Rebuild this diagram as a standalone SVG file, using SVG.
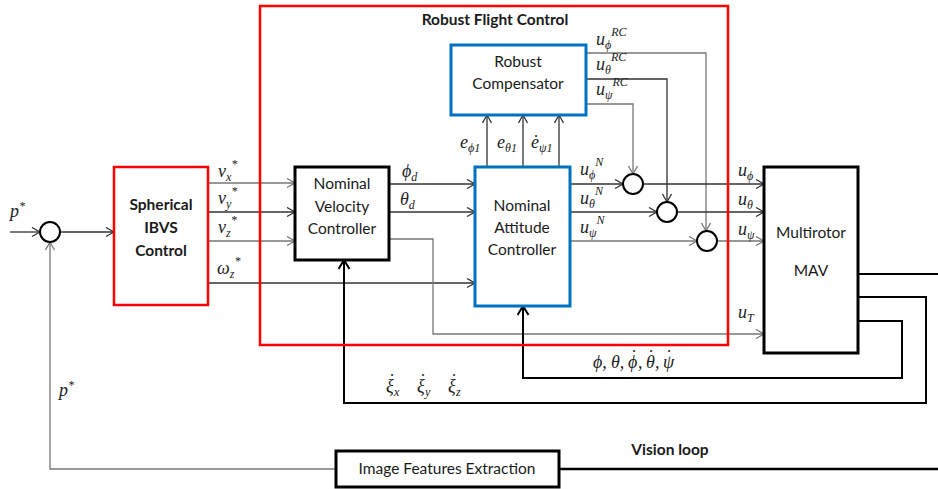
<svg xmlns="http://www.w3.org/2000/svg" width="938" height="489" viewBox="0 0 938 489">
<style>
.lbl{font-family:Lato,"Open Sans","Liberation Sans",sans-serif;font-size:15.5px;fill:#1a1a1a;text-anchor:middle}
.bold{font-weight:bold}
.m{font-family:"Liberation Serif","DejaVu Serif",serif;font-style:italic;font-size:18px;fill:#222}
.up{font-style:normal}
.s{font-size:12px}
.c{fill:none;stroke:#333;stroke-width:1.3}
.g{fill:none;stroke:#777;stroke-width:1.3}
.k{fill:none;stroke:#000;stroke-width:2}
.sum{fill:#fff;stroke:#000;stroke-width:2}
</style>
<defs>
<marker id="a" markerUnits="userSpaceOnUse" markerWidth="12" markerHeight="12" refX="9" refY="5" orient="auto"><path d="M1,0.5 L9,5 L1,9.5" fill="none" stroke="#333" stroke-width="1.3"/></marker>
<marker id="ag" markerUnits="userSpaceOnUse" markerWidth="12" markerHeight="12" refX="9" refY="5" orient="auto"><path d="M1,0.5 L9,5 L1,9.5" fill="none" stroke="#777" stroke-width="1.3"/></marker>
<marker id="ak" markerUnits="userSpaceOnUse" markerWidth="14" markerHeight="14" refX="10" refY="6" orient="auto"><path d="M1,0.5 L10,6 L1,11.5" fill="none" stroke="#000" stroke-width="2"/></marker>
</defs>
<rect width="938" height="489" fill="#fff"/>

<g id="connectors">
<path class="c" d="M10,232 H40" marker-end="url(#a)"/>
<path class="c" d="M60,232 H114" marker-end="url(#a)"/>
<path class="g" d="M336,469 H50 V242" marker-end="url(#ag)"/>
<path class="g" d="M208,183 H295" marker-end="url(#ag)"/>
<path class="c" d="M208,212 H295" marker-end="url(#a)"/>
<path class="g" d="M208,241 H295" marker-end="url(#ag)"/>
<path class="c" d="M208,283 H475" marker-end="url(#a)"/>
<path class="c" d="M389,184 H475" marker-end="url(#a)"/>
<path class="c" d="M389,212 H475" marker-end="url(#a)"/>
<path class="g" d="M389,239 H433 V334 H764" marker-end="url(#ag)"/>
<path class="c" d="M487,167 V115" marker-end="url(#a)"/>
<path class="c" d="M523,167 V115" marker-end="url(#a)"/>
<path class="c" d="M559,167 V115" marker-end="url(#a)"/>
<path class="g" d="M586,53 H706 V231" marker-end="url(#ag)"/>
<path class="c" d="M586,79 H667 V202" marker-end="url(#a)"/>
<path class="g" d="M586,104 H633 V174" marker-end="url(#ag)"/>
<path class="c" d="M570,184 H623" marker-end="url(#a)"/>
<path class="c" d="M643,184 H764" marker-end="url(#a)"/>
<path class="c" d="M570,212 H657" marker-end="url(#a)"/>
<path class="c" d="M677,212 H764" marker-end="url(#a)"/>
<path class="g" d="M570,241 H697" marker-end="url(#ag)"/>
<path class="g" d="M717,241 H764" marker-end="url(#ag)"/>
<path class="k" d="M858,274 H938"/>
<path class="k" d="M858,297 H926 V403 H344 V260" marker-end="url(#ak)"/>
<path class="k" d="M858,321 H902 V378 H523 V306" marker-end="url(#ak)"/>
<path d="M559,469 H938" fill="none" stroke="#000" stroke-width="2.5"/>
</g>

<g id="rfc"><rect x="260" y="6" width="468" height="339" fill="none" stroke="#f00" stroke-width="2.5"/>
<text class="lbl bold" x="495" y="25">Robust Flight Control</text></g>

<g id="sum0"><circle class="sum" cx="50" cy="232" r="10"/></g>
<g id="sum1"><circle class="sum" cx="633" cy="184" r="10"/></g>
<g id="sum2"><circle class="sum" cx="667" cy="212" r="10"/></g>
<g id="sum3"><circle class="sum" cx="707" cy="241" r="10"/></g>

<g id="ibvs"><rect x="114" y="167" width="94" height="138" fill="#fff" stroke="#f00" stroke-width="2.5"/>
<text class="lbl bold" x="161" y="210">Spherical</text>
<text class="lbl bold" x="161" y="233">IBVS</text>
<text class="lbl bold" x="161" y="256">Control</text></g>

<g id="nvc"><rect x="295" y="167" width="94" height="93" fill="#fff" stroke="#000" stroke-width="3"/>
<text class="lbl" x="342" y="189">Nominal</text>
<text class="lbl" x="342" y="212">Velocity</text>
<text class="lbl" x="342" y="234">Controller</text></g>

<g id="nac"><rect x="475" y="167" width="95" height="139" fill="#fff" stroke="#0070c0" stroke-width="3"/>
<text class="lbl" x="522" y="211">Nominal</text>
<text class="lbl" x="522" y="233">Attitude</text>
<text class="lbl" x="522" y="255">Controller</text></g>

<g id="rc"><rect x="451" y="45" width="135" height="70" fill="#fff" stroke="#0070c0" stroke-width="3"/>
<text class="lbl" x="518" y="67">Robust</text>
<text class="lbl" x="518" y="89">Compensator</text></g>

<g id="mav"><rect x="764" y="167" width="94" height="186" fill="#fff" stroke="#000" stroke-width="3"/>
<text class="lbl" x="811" y="238">Multirotor</text>
<text class="lbl" x="811" y="276">MAV</text></g>

<g id="ife"><rect x="336" y="451" width="223" height="36" fill="#fff" stroke="#000" stroke-width="3"/>
<text class="lbl" x="447" y="474">Image Features Extraction</text></g>

<g id="labels">
<text class="m" x="10" y="217">p<tspan class="s" dy="-7">*</tspan></text>
<text class="m" x="59" y="396">p<tspan class="s" dy="-7">*</tspan></text>
<text class="m" x="218" y="177">v<tspan class="s" dy="4">x</tspan><tspan class="s" dy="-13">*</tspan></text>
<text class="m" x="218" y="204">v<tspan class="s" dy="4">y</tspan><tspan class="s" dy="-13">*</tspan></text>
<text class="m" x="218" y="233">v<tspan class="s" dy="4">z</tspan><tspan class="s" dy="-13">*</tspan></text>
<text class="m" x="217" y="274">ω<tspan class="s" dy="4">z</tspan><tspan class="s" dy="-13">*</tspan></text>
<text class="m" x="402" y="177">ϕ<tspan class="s" dy="4">d</tspan></text>
<text class="m" x="400" y="205">θ<tspan class="s" dy="4">d</tspan></text>
<text class="m" x="460" y="148">e<tspan class="s" dy="4">ϕ1</tspan></text>
<text class="m" x="497" y="148">e<tspan class="s" dy="4">θ1</tspan></text>
<text class="m" y="148"><tspan x="531">e</tspan><tspan class="up" x="533" y="148">˙</tspan><tspan class="s" x="539" y="152">ψ1</tspan></text>
<text class="m" x="596" y="45">u<tspan class="s" dy="4">ϕ</tspan><tspan class="s" dy="-13">RC</tspan></text>
<text class="m" x="596" y="70">u<tspan class="s" dy="4">θ</tspan><tspan class="s" dy="-13">RC</tspan></text>
<text class="m" x="596" y="95">u<tspan class="s" dy="4">ψ</tspan><tspan class="s" dy="-13">RC</tspan></text>
<text class="m" x="580" y="175">u<tspan class="s" dy="4">ϕ</tspan><tspan class="s" dy="-13">N</tspan></text>
<text class="m" x="580" y="204">u<tspan class="s" dy="4">θ</tspan><tspan class="s" dy="-13">N</tspan></text>
<text class="m" x="580" y="233">u<tspan class="s" dy="4">ψ</tspan><tspan class="s" dy="-13">N</tspan></text>
<text class="m" x="738" y="176">u<tspan class="s" dy="4">ϕ</tspan></text>
<text class="m" x="738" y="205">u<tspan class="s" dy="4">θ</tspan></text>
<text class="m" x="738" y="235">u<tspan class="s" dy="4">ψ</tspan></text>
<text class="m" x="738" y="318">u<tspan class="s" dy="4">T</tspan></text>
<text class="m" y="368"><tspan x="593">ϕ,</tspan><tspan x="611">θ,</tspan><tspan x="628">ϕ</tspan><tspan class="up" x="631" y="363">˙</tspan><tspan x="638" y="368">,</tspan><tspan x="646">θ</tspan><tspan class="up" x="648" y="363">˙</tspan><tspan x="655" y="368">,</tspan><tspan x="663">ψ</tspan><tspan class="up" x="666" y="363">˙</tspan></text>
<text class="m" y="392"><tspan x="386">ξ</tspan><tspan class="up" x="389" y="387">˙</tspan><tspan class="s" x="394" y="396">x</tspan></text>
<text class="m" y="392"><tspan x="417">ξ</tspan><tspan class="up" x="420" y="387">˙</tspan><tspan class="s" x="425" y="396">y</tspan></text>
<text class="m" y="392"><tspan x="448">ξ</tspan><tspan class="up" x="451" y="387">˙</tspan><tspan class="s" x="456" y="396">z</tspan></text>
<text class="lbl bold" x="670" y="455">Vision loop</text>
</g>
</svg>
